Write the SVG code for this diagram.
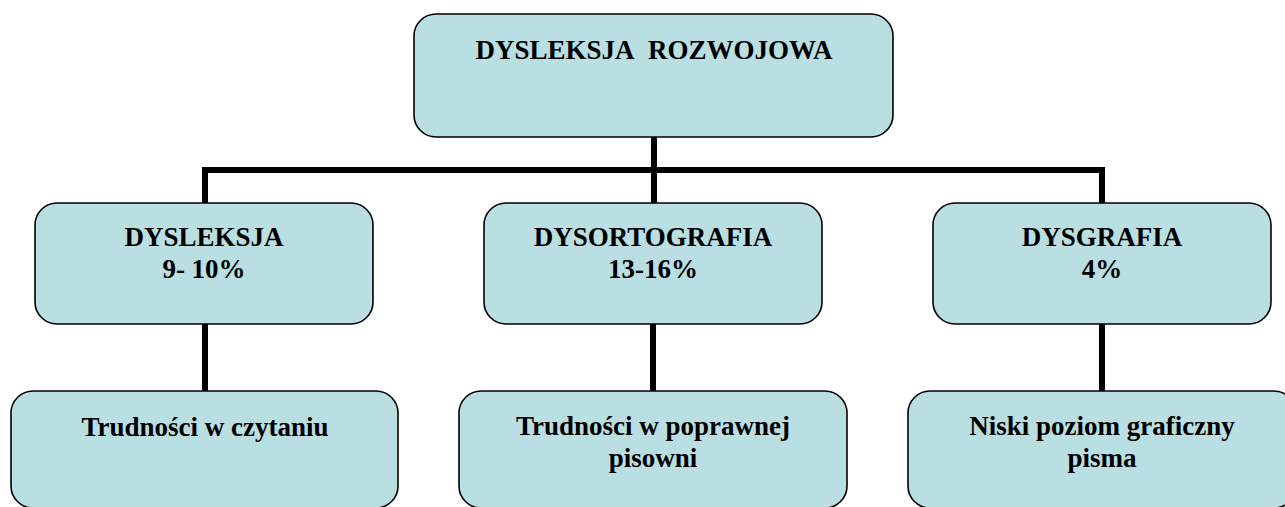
<svg xmlns="http://www.w3.org/2000/svg" width="1285" height="507" viewBox="0 0 1285 507">
<style>
.box{fill:#b9dfe3;stroke:#000;stroke-width:1.6}
.c{fill:none;stroke:#000;stroke-width:6}
</style>
<rect width="1285" height="507" fill="#fff"/>
<g id="connectors">
<path class="c" d="M654 137 V170"/>
<path class="c" d="M205 203 V170 H1102 V203"/>
<path class="c" d="M654 170 V203"/>
<path class="c" d="M205 324 V391"/>
<path class="c" d="M653 324 V391"/>
<path class="c" d="M1102 324 V391"/>
</g>
<g id="root">
<rect class="box" x="414" y="14" width="479" height="123" rx="22"/>
<text x="654" y="59" font-family="'Liberation Serif'" font-weight="bold" font-size="27" text-anchor="middle">DYSLEKSJA&#160; ROZWOJOWA</text>
</g>
<g id="dysleksja">
<rect class="box" x="35" y="203" width="338" height="121" rx="22"/>
<text x="204" y="246" font-family="'Liberation Serif'" font-weight="bold" font-size="27" text-anchor="middle">DYSLEKSJA</text>
<text x="204" y="278" font-family="'Liberation Serif'" font-weight="bold" font-size="27" text-anchor="middle">9- 10%</text>
</g>
<g id="dysortografia">
<rect class="box" x="484" y="203" width="338" height="121" rx="22"/>
<text x="653" y="246" font-family="'Liberation Serif'" font-weight="bold" font-size="27" text-anchor="middle">DYSORTOGRAFIA</text>
<text x="653" y="278" font-family="'Liberation Serif'" font-weight="bold" font-size="27" text-anchor="middle">13-16%</text>
</g>
<g id="dysgrafia">
<rect class="box" x="933" y="203" width="338" height="121" rx="22"/>
<text x="1102" y="246" font-family="'Liberation Serif'" font-weight="bold" font-size="27" text-anchor="middle">DYSGRAFIA</text>
<text x="1102" y="278" font-family="'Liberation Serif'" font-weight="bold" font-size="27" text-anchor="middle">4%</text>
</g>
<g id="czytanie">
<rect class="box" x="11" y="391" width="387" height="117" rx="22"/>
<text x="205" y="436" font-family="'Liberation Serif'" font-weight="bold" font-size="27" text-anchor="middle">Trudności w czytaniu</text>
</g>
<g id="pisownia">
<rect class="box" x="459" y="391" width="388" height="117" rx="22"/>
<text x="653" y="435" font-family="'Liberation Serif'" font-weight="bold" font-size="27" text-anchor="middle">Trudności w poprawnej</text>
<text x="653" y="467" font-family="'Liberation Serif'" font-weight="bold" font-size="27" text-anchor="middle">pisowni</text>
</g>
<g id="pismo">
<rect class="box" x="908" y="391" width="388" height="117" rx="22"/>
<text x="1102" y="435" font-family="'Liberation Serif'" font-weight="bold" font-size="27" text-anchor="middle">Niski poziom graficzny</text>
<text x="1102" y="467" font-family="'Liberation Serif'" font-weight="bold" font-size="27" text-anchor="middle">pisma</text>
</g>
</svg>
